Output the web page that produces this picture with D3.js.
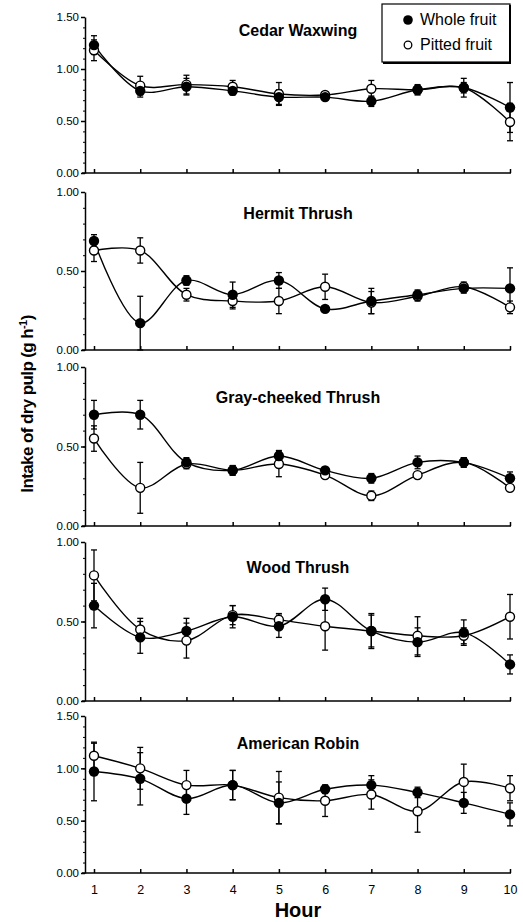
<!DOCTYPE html>
<meta charset="utf-8">
<style>
    body { margin: 0; background: #fff; }
    svg text { font-family: "Liberation Sans", Arial, sans-serif; fill: #000; }
    .axis path, .axis line { fill: none; stroke: #000; stroke-width: 1.5; }
    .axis text { font-size: 11.5px; }
    .title { font-size: 16px; font-weight: bold; }
</style>
<body>
<svg id="chart" width="523" height="922"></svg>
</body>
<script src="https://cdn.jsdelivr.net/npm/d3@7"></script>
<script>
    // hours on the x axis
    var hours = [1, 2, 3, 4, 5, 6, 7, 8, 9, 10];

    var species = ['Cedar Waxwing', 'Hermit Thrush', 'Gray-cheeked Thrush', 'Wood Thrush', 'American Robin'];
    var yMax = [1.5, 1, 1, 1, 1.5];

    // means and error bars (g/h)
    var waxwingWhole = [1.23, 0.79, 0.83, 0.79, 0.73, 0.73, 0.69, 0.80, 0.82, 0.63];
    var waxwingWholeSE = [0.09, 0.06, 0.08, 0.04, 0.07, 0.03, 0.05, 0.04, 0.05, 0.24];
    var waxwingPitted = [1.18, 0.84, 0.85, 0.83, 0.76, 0.75, 0.81, 0.80, 0.82, 0.49];
    var waxwingPittedSE = [0.10, 0.09, 0.09, 0.06, 0.11, 0.03, 0.08, 0.05, 0.09, 0.18];

    var hermitWhole = [0.69, 0.17, 0.44, 0.35, 0.44, 0.26, 0.31, 0.35, 0.39, 0.39];
    var hermitWholeSE = [0.04, 0.17, 0.03, 0.08, 0.05, 0.02, 0.08, 0.03, 0.03, 0.13];
    var hermitPitted = [0.63, 0.63, 0.35, 0.31, 0.31, 0.40, 0.30, 0.34, 0.40, 0.27];
    var hermitPittedSE = [0.07, 0.08, 0.04, 0.05, 0.08, 0.08, 0.07, 0.03, 0.03, 0.04];

    var graycheekWhole = [0.70, 0.70, 0.40, 0.35, 0.44, 0.35, 0.30, 0.40, 0.40, 0.30];
    var graycheekWholeSE = [0.09, 0.09, 0.03, 0.03, 0.035, 0.02, 0.03, 0.04, 0.03, 0.04];
    var graycheekPitted = [0.55, 0.24, 0.39, 0.35, 0.39, 0.32, 0.19, 0.32, 0.40, 0.24];
    var graycheekPittedSE = [0.08, 0.16, 0.03, 0.03, 0.08, 0.02, 0.03, 0.02, 0.03, 0.02];

    var woodWhole = [0.60, 0.40, 0.44, 0.53, 0.47, 0.64, 0.44, 0.37, 0.43, 0.23];
    var woodWholeSE = [0.14, 0.10, 0.08, 0.07, 0.07, 0.07, 0.11, 0.09, 0.08, 0.06];
    var woodPitted = [0.79, 0.45, 0.38, 0.54, 0.51, 0.47, 0.44, 0.41, 0.41, 0.53];
    var woodPittedSE = [0.16, 0.07, 0.11, 0.06, 0.04, 0.15, 0.10, 0.12, 0.05, 0.14];

    var robinWhole = [0.97, 0.90, 0.71, 0.84, 0.67, 0.80, 0.84, 0.77, 0.67, 0.56];
    var robinWholeSE = [0.28, 0.25, 0.15, 0.14, 0.20, 0.04, 0.09, 0.05, 0.10, 0.11];
    var robinPitted = [1.12, 1.00, 0.84, 0.84, 0.72, 0.69, 0.75, 0.59, 0.87, 0.81];
    var robinPittedSE = [0.12, 0.20, 0.14, 0.14, 0.25, 0.15, 0.14, 0.20, 0.17, 0.12];

    var wholeSeries = [waxwingWhole, hermitWhole, graycheekWhole, woodWhole, robinWhole];
    var wholeErr = [waxwingWholeSE, hermitWholeSE, graycheekWholeSE, woodWholeSE, robinWholeSE];
    var pittedSeries = [waxwingPitted, hermitPitted, graycheekPitted, woodPitted, robinPitted];
    var pittedErr = [waxwingPittedSE, hermitPittedSE, graycheekPittedSE, woodPittedSE, robinPittedSE];

    // panel layout (pixel tops / bottoms of each y axis)
    var panelTop = [17, 192, 367, 542, 716],
        panelBottom = [173, 350, 526, 701, 873],
        titleOffset = [19, 27, 36, 31, 33];

    var svg = d3.select('#chart');

    var x = d3.scaleLinear().domain([1, 10]).range([94, 510]);
    var axisLeftX = 85;

    var line = d3.line()
        .x(function (d) { return x(d.h); })
        .y(function (d) { return d.y; })
        .curve(d3.curveCatmullRom.alpha(0.5));

    species.forEach(function (name, p) {
        var y = d3.scaleLinear().domain([0, yMax[p]]).range([panelBottom[p], panelTop[p]]);
        var g = svg.append('g').attr('class', 'panel');

        // minor ticks every 0.1
        var minor = d3.range(0, yMax[p] + 0.001, 0.1);
        g.append('g')
            .attr('class', 'axis')
            .attr('transform', 'translate(' + axisLeftX + ',0)')
            .call(d3.axisLeft(y).tickValues(minor).tickSize(2).tickFormat(''))
            .call(function (s) { s.select('.domain').remove(); s.selectAll('line').style('stroke-width', 1); });

        // y axis
        var majors = d3.range(0, yMax[p] + 0.001, 0.5);
        g.append('g')
            .attr('class', 'axis y')
            .attr('transform', 'translate(' + axisLeftX + ',0)')
            .call(d3.axisLeft(y).tickValues(majors).tickSizeInner(4).tickSizeOuter(0).tickPadding(2).tickFormat(d3.format('.2f')));

        // x axis, ticks pointing up
        var xa = d3.axisBottom(x).tickValues(hours).tickSizeInner(-4).tickSizeOuter(0);
        if (p < species.length - 1) xa.tickFormat('');
        else xa.tickPadding(12);
        var gx = g.append('g')
            .attr('class', 'axis x')
            .attr('transform', 'translate(0,' + panelBottom[p] + ')')
            .call(xa);
        gx.select('.domain').attr('d', 'M' + (axisLeftX - 3) + ',0H' + (x(10) + 1));
        gx.selectAll('text').style('font-size', '12.5px');

        g.append('text')
            .attr('class', 'title')
            .attr('x', 298)
            .attr('y', panelTop[p] + titleOffset[p])
            .attr('text-anchor', 'middle')
            .text(name);

        var whole = hours.map(function (h, i) { return { h: h, v: wholeSeries[p][i], e: wholeErr[p][i], y: y(wholeSeries[p][i]) }; });
        var pitted = hours.map(function (h, i) { return { h: h, v: pittedSeries[p][i], e: pittedErr[p][i], y: y(pittedSeries[p][i]) }; });

        [pitted, whole].forEach(function (ser) {
            g.append('path')
                .datum(ser)
                .attr('d', line)
                .attr('fill', 'none')
                .attr('stroke', '#000')
                .attr('stroke-width', 1.4);
        });

        [pitted, whole].forEach(function (ser) {
            var eb = g.append('g').selectAll('g').data(ser).enter().append('g');
            eb.append('line')
                .attr('x1', function (d) { return x(d.h); })
                .attr('x2', function (d) { return x(d.h); })
                .attr('y1', function (d) { return y(d.v - d.e); })
                .attr('y2', function (d) { return y(d.v + d.e); })
                .attr('stroke', '#000').attr('stroke-width', 1.3);
            [-1, 1].forEach(function (s) {
                eb.append('line')
                    .attr('x1', function (d) { return x(d.h) - 3; })
                    .attr('x2', function (d) { return x(d.h) + 3; })
                    .attr('y1', function (d) { return y(d.v + s * d.e); })
                    .attr('y2', function (d) { return y(d.v + s * d.e); })
                    .attr('stroke', '#000').attr('stroke-width', 1.3);
            });
        });

        g.append('g').selectAll('circle').data(pitted).enter().append('circle')
            .attr('cx', function (d) { return x(d.h); })
            .attr('cy', function (d) { return d.y; })
            .attr('r', 4.5)
            .attr('fill', '#fff')
            .attr('stroke', '#000')
            .attr('stroke-width', 1.4);

        g.append('g').selectAll('circle').data(whole).enter().append('circle')
            .attr('cx', function (d) { return x(d.h); })
            .attr('cy', function (d) { return d.y; })
            .attr('r', 5.2)
            .attr('fill', '#000');
    });

    // legend
    var lg = svg.append('g');
    lg.append('rect')
        .attr('x', 382).attr('y', 4).attr('width', 128).attr('height', 58)
        .attr('fill', '#fff').attr('stroke', '#000').attr('stroke-width', 1.2);
    lg.append('path')
        .attr('d', 'M510,5V63H383')
        .attr('fill', 'none').attr('stroke', '#000').attr('stroke-width', 2);
    lg.append('circle').attr('cx', 408).attr('cy', 20).attr('r', 4.8).attr('fill', '#000');
    lg.append('circle').attr('cx', 408).attr('cy', 45).attr('r', 3.8)
        .attr('fill', '#fff').attr('stroke', '#000').attr('stroke-width', 1.3);
    lg.append('text').attr('x', 420).attr('y', 25).style('font-size', '16px').text('Whole fruit');
    lg.append('text').attr('x', 420).attr('y', 50).style('font-size', '16px').text('Pitted fruit');

    // axis titles
    svg.append('text')
        .attr('transform', 'translate(33,404) rotate(-90)')
        .attr('text-anchor', 'middle')
        .style('font-size', '17px')
        .style('letter-spacing', '-0.6px')
        .style('font-weight', 'bold')
        .text('Intake of dry pulp (g h')
        .append('tspan').attr('dy', -6).style('font-size', '11px').text('-1')
        .select(function () { return this.parentNode; })
        .append('tspan').attr('dy', 6).text(')');

    svg.append('text')
        .attr('x', 298)
        .attr('y', 917)
        .attr('text-anchor', 'middle')
        .style('font-size', '20px')
        .style('font-weight', 'bold')
        .text('Hour');
</script>
